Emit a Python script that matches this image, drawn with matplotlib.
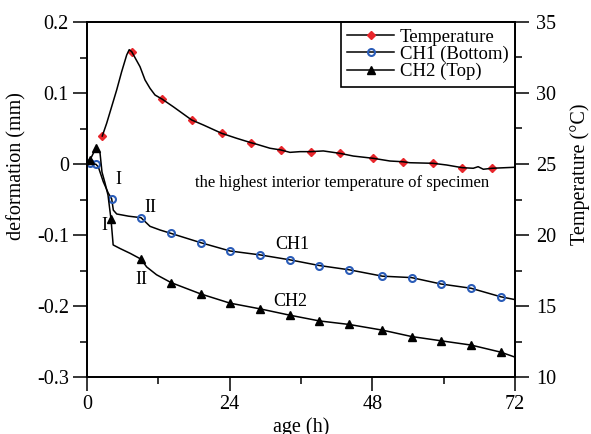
import matplotlib
matplotlib.use("Agg")
import matplotlib.pyplot as plt
from matplotlib.ticker import MultipleLocator, FuncFormatter
from matplotlib.lines import Line2D

plt.rcParams['font.family'] = ['Liberation Serif', 'DejaVu Serif']

# ---- data ----
temp_h = [2.57, 3.31, 4.15, 4.99, 5.83, 6.68, 7.10, 7.52, 8.92, 9.76, 10.60, 11.44,
          12.67, 14.52, 17.61, 19.56, 22.66, 25.18, 27.59, 28.55, 30.78, 32.58,
          34.15, 35.83, 37.63, 39.75, 42.56, 44.80, 48.16, 50.97, 53.10, 54.30,
          58.15, 60.50, 63.13, 64.98, 65.80, 66.67, 68.18, 72.00]
temp_T = [26.97, 27.87, 29.04, 30.21, 31.50, 32.68, 33.05, 32.91, 31.85, 30.92, 30.33, 29.86,
          29.56, 29.03, 28.10, 27.75, 27.16, 26.81, 26.50, 26.39, 26.11, 25.99,
          25.82, 25.87, 25.87, 25.92, 25.75, 25.56, 25.40, 25.21, 25.16, 25.09,
          25.05, 24.93, 24.74, 24.70, 24.81, 24.63, 24.70, 24.77]
temp_marks = [0, 7, 12, 14, 16, 18, 21, 24, 26, 28, 30, 32, 34, 38]

ch1_h = [0.0, 0.5, 1.5, 1.9, 2.74, 3.58, 4.15, 4.43, 5.0, 7.0, 9.08, 10.6, 12.3,
         14.08, 19.13, 24.06, 29.1, 34.15, 39.08, 44.1, 49.7, 54.6, 59.55, 64.6, 69.6, 72.0]
ch1_d = [0.001, 0.001, -0.0004, -0.004, -0.025, -0.041, -0.049, -0.065, -0.0704, -0.0735,
         -0.0756, -0.0878, -0.093, -0.0976, -0.1108, -0.1225, -0.128, -0.135, -0.143,
         -0.149, -0.158, -0.160, -0.169, -0.175, -0.187, -0.191]
ch1_marks = [1, 2, 6, 10, 13, 14, 15, 16, 17, 18, 19, 20, 21, 22, 23, 24]

ch2_h = [0.0, 0.5, 1.5, 2.19, 2.52, 3.03, 3.53, 4.04, 4.4, 5.55, 7.3, 9.08, 10.04, 11.7,
         14.13, 19.13, 24.06, 29.1, 34.15, 39.08, 44.1, 49.7, 54.6, 59.55, 64.6, 69.6, 72.0]
ch2_d = [0.003, 0.0056, 0.0225, 0.0155, -0.0113, -0.0268, -0.0437, -0.078, -0.114, -0.119,
         -0.126, -0.134, -0.145, -0.156, -0.167, -0.183, -0.196, -0.204, -0.213, -0.221,
         -0.226, -0.234, -0.243, -0.249, -0.255, -0.265, -0.272]
ch2_marks = [1, 2, 7, 11, 14, 15, 16, 17, 18, 19, 20, 21, 22, 23, 24, 25]

x_ticks = [0, 24, 48, 72]
legend_labels = ['Temperature', 'CH1 (Bottom)', 'CH2 (Top)']
red = '#e8262b'
blue = '#2a5cb8'

fig = plt.figure(figsize=(5.91, 4.34), dpi=100)
ax = fig.add_axes([87/591, 1-377/434, (515-87)/591, (377-22)/434])
ax2 = ax.twinx()

lw = 1.1
# deformation curves
l2, = ax.plot(ch1_h, ch1_d, color='black', lw=lw, marker='o', markevery=ch1_marks,
              ms=5, mfc='none', mec=blue, mew=1.5)
l3, = ax.plot(ch2_h, ch2_d, color='black', lw=lw, marker='^', markevery=ch2_marks,
              ms=5.5, mfc='black', mec='black')
# temperature curve
ax2.plot(temp_h, temp_T, ls='none', marker='D', markevery=temp_marks,
         ms=4.5, mfc=red, mec=red, zorder=2)
ax2.plot(temp_h, temp_T, color='black', lw=lw, zorder=3)

ax.set_xlim(0, 72)
ax.set_ylim(-0.3, 0.2)
ax2.set_ylim(10, 35)
ax.set_xticks(x_ticks)
ax.xaxis.set_minor_locator(MultipleLocator(12))
ax.yaxis.set_major_locator(MultipleLocator(0.1))
ax.yaxis.set_minor_locator(MultipleLocator(0.05))
ax2.yaxis.set_major_locator(MultipleLocator(5))
ax2.yaxis.set_minor_locator(MultipleLocator(2.5))
ax.yaxis.set_major_formatter(FuncFormatter(lambda v, p: '%g' % round(v, 2)))

for a in (ax, ax2):
    for s in a.spines.values():
        s.set_linewidth(1.3)
    a.tick_params(which='major', direction='out', length=10, width=1.1, labelsize=14.5, pad=3)
    a.tick_params(which='minor', direction='out', length=5, width=1.1)
ax2.tick_params(which='major', pad=5)

ax.set_xlabel('age (h)', fontsize=14.5, labelpad=2)
ax.set_ylabel('deformation (mm)', fontsize=14.5)
ax.yaxis.set_label_coords(-0.142, 0.594)
ax2.set_ylabel('Temperature (°C)', fontsize=14.5)
ax2.yaxis.set_label_coords(1.128, 0.572)

# annotations
ax.text(5.2, -0.0225, 'I', fontsize=13, ha='center', va='center')
ax.text(10.6, -0.0606, 'II', fontsize=13, ha='center', va='center')
ax.text(2.9, -0.087, 'I', fontsize=13, ha='center', va='center')
ax.text(9.1, -0.163, 'II', fontsize=13, ha='center', va='center')
ax.text(34.5, -0.114, 'CH1', fontsize=13, ha='center', va='center')
ax.text(34.15, -0.194, 'CH2', fontsize=13, ha='center', va='center')
ax.text(42.9, -0.027, 'the highest interior temperature of specimen', fontsize=12,
        ha='center', va='center')

h1 = Line2D([], [], color='black', lw=lw, marker='D', ms=4.5, mfc=red, mec=red)
leg = ax.legend([h1, l2, l3], legend_labels,
                loc='upper right', fontsize=13.5, frameon=True, fancybox=False,
                edgecolor='black', framealpha=1, borderaxespad=0, handlelength=2.5,
                labelspacing=0.0, borderpad=0.35, handletextpad=0.3, markerscale=1)
leg.get_frame().set_linewidth(1.2)
leg.set_zorder(10)

fig.savefig('out.png', dpi=100)
